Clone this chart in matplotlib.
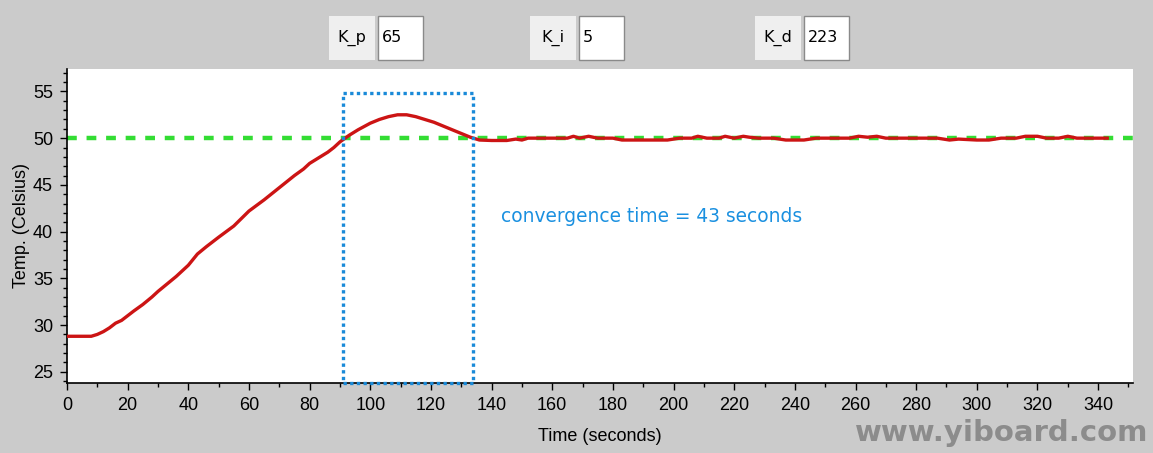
import matplotlib
matplotlib.use("Agg")
import matplotlib.pyplot as plt
from matplotlib.patches import Rectangle
from matplotlib.ticker import MultipleLocator

# ---- data ----
time_s = [0, 4, 8, 10, 12, 14, 16, 18, 20, 22, 25, 28, 30, 33, 36, 40, 43, 46, 50,
          55, 60, 65, 70, 75, 78, 80, 83, 86, 88, 90, 93, 96, 100, 103, 106, 109, 112,
          115, 118, 121, 124, 127, 130, 133, 136, 140, 145, 148, 150, 152, 155, 160,
          165, 167, 169, 172, 175, 180, 183, 190, 198, 202, 206, 208, 211, 215, 217,
          220, 223, 225, 228, 233, 237, 243, 247, 252, 258, 261, 264, 267, 270, 273,
          280, 287, 291, 294, 300, 304, 308, 313, 316, 320, 323, 327, 330, 333, 337, 343]
temp_c = [28.8, 28.8, 28.8, 29.0, 29.3, 29.7, 30.2, 30.5, 31.0, 31.5, 32.2, 33.0,
          33.6, 34.4, 35.2, 36.4, 37.6, 38.4, 39.4, 40.6, 42.2, 43.4, 44.7, 46.0,
          46.7, 47.3, 47.9, 48.5, 49.0, 49.6, 50.3, 50.9, 51.6, 52.0, 52.3, 52.5,
          52.5, 52.3, 52.0, 51.7, 51.3, 50.9, 50.5, 50.1, 49.8, 49.75, 49.75, 49.9,
          49.8, 50.0, 50.0, 50.0, 50.0, 50.2, 50.0, 50.2, 50.0, 50.0, 49.8, 49.8,
          49.8, 50.0, 50.0, 50.2, 50.0, 50.0, 50.2, 50.0, 50.2, 50.1, 50.0, 50.0,
          49.8, 49.8, 50.0, 50.0, 50.0, 50.2, 50.1, 50.2, 50.0, 50.0, 50.0, 50.0,
          49.8, 49.9, 49.8, 49.8, 50.0, 50.0, 50.2, 50.2, 50.0, 50.0, 50.2, 50.0,
          50.0, 50.0]
setpoint = 50
conv_start, conv_end = 91, 134
box_top = 54.8
gains = [("K_p", "65"), ("K_i", "5"), ("K_d", "223")]

W, H = 1153, 453
fig = plt.figure(figsize=(W / 100, H / 100), dpi=100, facecolor="#cbcbcb")
ax = fig.add_axes([67 / W, 1 - 383 / H, (1133 - 67) / W, (383 - 69) / H])
ax.set_facecolor("white")

ax.plot(time_s, temp_c, color="#cc1414", lw=2.4, zorder=3)
ax.axhline(setpoint, color="#33dd33", lw=3.2, dashes=(2.2, 2.2), zorder=2)
ax.add_patch(Rectangle((conv_start, 23.8), conv_end - conv_start, box_top - 23.8,
                       fill=False, edgecolor="#1a8ad8", lw=2.4, linestyle=(0, (1, 1)),
                       zorder=4, clip_on=False))
ax.text(143, 41.6, "convergence time = 43 seconds", color="#1a90e0", fontsize=13.4,
        family="DejaVu Sans", va="center", ha="left")

ax.set_xlim(0, 351.5)
ax.set_ylim(23.8, 57.4)
ax.xaxis.set_major_locator(MultipleLocator(20))
ax.xaxis.set_minor_locator(MultipleLocator(10))
ax.yaxis.set_major_locator(MultipleLocator(5))
ax.yaxis.set_minor_locator(MultipleLocator(1))
for s in ["top", "right"]:
    ax.spines[s].set_visible(False)
for s in ["left", "bottom"]:
    ax.spines[s].set_linewidth(1.2)
ax.tick_params(which="major", length=5, width=1, direction="out", labelsize=13, pad=5)
ax.tick_params(which="minor", length=3, width=1, direction="out")
for lab in ax.get_xticklabels() + ax.get_yticklabels():
    lab.set_family("Liberation Sans")
ax.set_xlabel("Time (seconds)", fontsize=13, family="Liberation Sans", labelpad=10)
ax.set_ylabel("Temp. (Celsius)", fontsize=13, family="Liberation Sans", labelpad=2)

def px_rect(x0, y0, x1, y1, **kw):
    fig.patches.append(Rectangle((x0 / W, 1 - y1 / H), (x1 - x0) / W, (y1 - y0) / H,
                                 transform=fig.transFigure, figure=fig, **kw))

label_x = [329, 530, 755]
for (name, val), lx in zip(gains, label_x):
    px_rect(lx, 16, lx + 46, 60, facecolor="#efefef", edgecolor="none")
    px_rect(lx + 49, 16, lx + 94, 60, facecolor="white", edgecolor="#8a8a8a", lw=1)
    fig.text((lx + 23) / W, 1 - 38 / H, name, fontsize=11.5, ha="center", va="center",
             family="DejaVu Sans")
    fig.text((lx + 53) / W, 1 - 38 / H, val, fontsize=11.5, ha="left", va="center",
             family="DejaVu Sans")

fig.text(1148 / W, 1 - 433 / H, "www.yiboard.com", fontsize=21, fontweight="heavy",
         color="#8c8c8c", ha="right", va="center", family="DejaVu Sans")

fig.savefig("out.png", dpi=100, facecolor=fig.get_facecolor())
